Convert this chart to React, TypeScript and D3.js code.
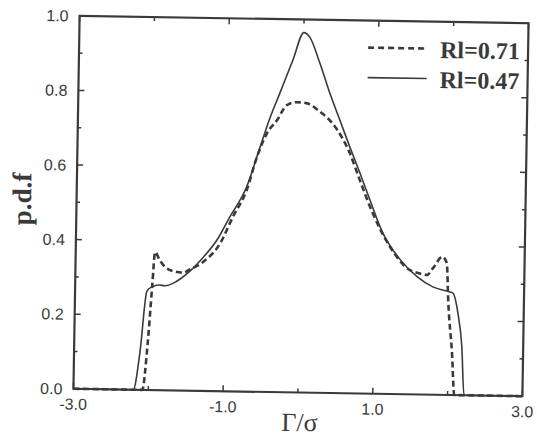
import React from "react";
import * as d3 from "d3";

// Rl = 0.47 (solid)
const gammaSolid = [-3.0, -2.20, -2.12, -2.04, -1.97, -1.88, -1.80, -1.65, -1.50, -1.30, -1.10, -0.95, -0.73, -0.56, -0.43, -0.32, -0.14, 0.0, 0.08, 0.22, 0.36, 0.50, 0.64, 0.78, 0.92, 1.10, 1.34, 1.57, 1.78, 2.01, 2.05, 2.12, 2.18, 2.22, 3.0];
const pdfSolid = [0, 0, 0.10, 0.265, 0.277, 0.282, 0.280, 0.292, 0.315, 0.357, 0.41, 0.467, 0.549, 0.656, 0.737, 0.795, 0.891, 0.965, 0.953, 0.884, 0.804, 0.732, 0.660, 0.591, 0.519, 0.431, 0.360, 0.315, 0.289, 0.276, 0.273, 0.22, 0.13, 0, 0];

// Rl = 0.71 (dashed)
const gammaDashed = [-3.0, -2.08, -2.02, -1.97, -1.94, -1.88, -1.80, -1.70, -1.56, -1.47, -1.30, -1.07, -0.91, -0.73, -0.60, -0.47, -0.34, -0.21, -0.08, 0.05, 0.21, 0.46, 0.64, 0.78, 0.96, 1.20, 1.47, 1.57, 1.70, 1.78, 1.90, 1.96, 1.99, 2.05, 2.09, 3.0];
const pdfDashed = [0, 0, 0.12, 0.28, 0.37, 0.35, 0.33, 0.32, 0.316, 0.325, 0.345, 0.397, 0.467, 0.540, 0.629, 0.694, 0.729, 0.770, 0.778, 0.776, 0.757, 0.708, 0.644, 0.572, 0.484, 0.394, 0.333, 0.326, 0.321, 0.340, 0.370, 0.354, 0.246, 0.113, 0, 0];

const xTickValues = [-3, -2, -1, 0, 1, 2, 3];
const xTickLabels = ["-3.0", "", "-1.0", "", "1.0", "", "3.0"];
const yTickValues = [0, 0.1, 0.2, 0.3, 0.4, 0.5, 0.6, 0.7, 0.8, 0.9, 1.0];
const yTickLabels = ["0.0", "", "0.2", "", "0.4", "", "0.6", "", "0.8", "", "1.0"];
const legendLabels = ["Rl=0.71", "Rl=0.47"];

const W = 537;
const H = 439;
const INK = "#3a3a3a";

export default function App() {
  const x = d3.scaleLinear().domain([-3, 3]).range([76.5, 525.5]);
  const y = d3.scaleLinear().domain([0, 1]).range([392.5, 19.5]);
  const line = d3
    .line<[number, number]>()
    .x((d) => x(d[0]))
    .y((d) => y(d[1]))
    .curve(d3.curveMonotoneX);
  const solidPts = gammaSolid.map((g, i) => [g, pdfSolid[i]] as [number, number]);
  const dashedPts = gammaDashed.map((g, i) => [g, pdfDashed[i]] as [number, number]);
  const [x0, x1] = x.range();
  const [y0, y1] = y.range();
  const sans = "'Liberation Sans', Arial, sans-serif";
  const serif = "'Liberation Serif', 'Times New Roman', serif";

  return (
    <svg width={W} height={H} style={{ position: "absolute", left: 0, top: 0, background: "#fff" }}>
      <rect width={W} height={H} fill="#fff" />
      <g transform="rotate(0.95, 301, 206)">
        {/* curves */}
        <path d={line(dashedPts) || ""} fill="none" stroke={INK} strokeWidth={2.6} strokeDasharray="6,3.5" />
        <path d={line(solidPts) || ""} fill="none" stroke={INK} strokeWidth={1.6} />

        {/* frame */}
        <rect x={x0} y={y1} width={x1 - x0} height={y0 - y1} fill="none" stroke={INK} strokeWidth={2.2} />

        {/* x ticks */}
        {xTickValues.map((v, i) => {
          const len = xTickLabels[i] ? 6 : 4;
          return (
            <g key={"xt" + i}>
              <line x1={x(v)} x2={x(v)} y1={y0} y2={y0 - len} stroke={INK} strokeWidth={1.5} />
              <line x1={x(v)} x2={x(v)} y1={y1} y2={y1 + len} stroke={INK} strokeWidth={1.5} />
              {xTickLabels[i] && (
                <text x={x(v)} y={y0 + 21} textAnchor="middle" fontFamily={sans} fontSize={16} fill={INK}>
                  {xTickLabels[i]}
                </text>
              )}
            </g>
          );
        })}

        {/* y ticks */}
        {yTickValues.map((v, i) => {
          const len = yTickLabels[i] ? 6 : 3.5;
          return (
            <g key={"yt" + i}>
              <line x1={x0} x2={x0 + len} y1={y(v)} y2={y(v)} stroke={INK} strokeWidth={1.5} />
              <line x1={x1} x2={x1 - len} y1={y(v)} y2={y(v)} stroke={INK} strokeWidth={1.5} />
              {yTickLabels[i] && (
                <text x={x0 - 11} y={y(v)} dy="0.36em" textAnchor="end" fontFamily={sans} fontSize={16} fill={INK}>
                  {yTickLabels[i]}
                </text>
              )}
            </g>
          );
        })}

        {/* axis titles */}
        <text x={303} y={431} textAnchor="middle" fontFamily={serif} fontSize={26} fill={INK}>
          Γ/σ
        </text>
        <text
          transform="translate(31, 203.6) rotate(-90)"
          textAnchor="middle"
          fontFamily={serif}
          fontWeight="bold"
          fontSize={27}
          fill={INK}
        >
          p.d.f
        </text>

        {/* legend */}
        <line x1={365.5} x2={424.5} y1={46.5} y2={46.5} stroke={INK} strokeWidth={2.6} strokeDasharray="6,4" />
        <text x={437.5} y={55.7} fontFamily={serif} fontWeight="bold" fontSize={24} fill={INK}>
          {legendLabels[0]}
        </text>
        <line x1={365.5} x2={424.5} y1={76.5} y2={76.5} stroke={INK} strokeWidth={1.6} />
        <text x={437.5} y={85.7} fontFamily={serif} fontWeight="bold" fontSize={24} fill={INK}>
          {legendLabels[1]}
        </text>
      </g>
    </svg>
  );
}
